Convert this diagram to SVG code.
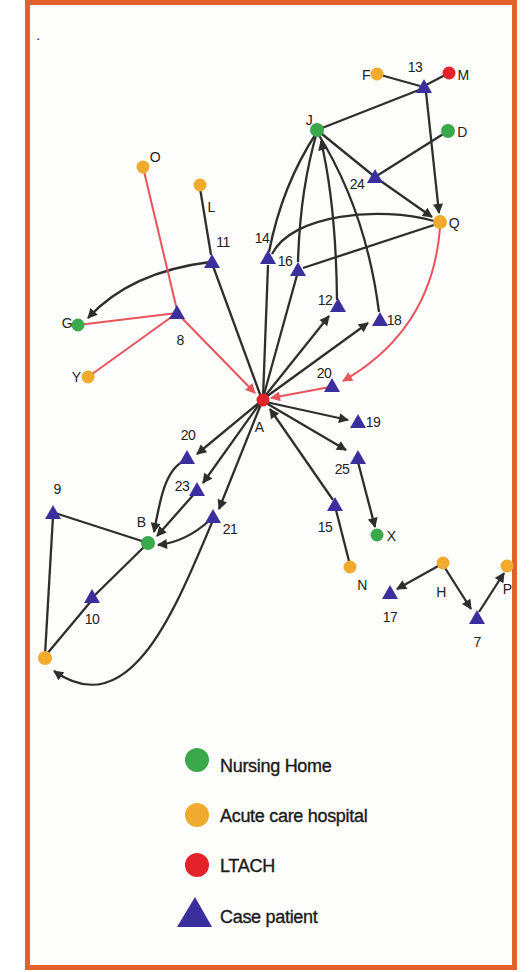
<svg xmlns="http://www.w3.org/2000/svg" width="531" height="972" viewBox="0 0 531 972">
<defs>
<style>
.e{fill:none;stroke:#2e2e2e;stroke-width:2.3}
.r{fill:none;stroke:#e8545c;stroke-width:2}
.nh{fill:#3aa94c}
.ah{fill:#f0aa2e}
.lt{fill:#e3222a}
.cp{fill:#3b2f9e}
.lb{font-family:"Liberation Sans Narrow","Liberation Sans",Arial,sans-serif;font-size:14px;fill:#222;text-anchor:middle;letter-spacing:-0.6px}
.lg{font-family:"Liberation Sans",Arial,sans-serif;font-size:18px;fill:#1a1a1a;stroke:#1a1a1a;stroke-width:0.35;letter-spacing:-0.3px}
</style>
<marker id="ak" viewBox="0 0 10 10" refX="9" refY="5" markerWidth="11" markerHeight="10" markerUnits="userSpaceOnUse" orient="auto"><path d="M0,0 L10,5 L0,10 Z" fill="#2e2e2e"/></marker>
<marker id="ar" viewBox="0 0 10 10" refX="9" refY="5" markerWidth="11" markerHeight="10" markerUnits="userSpaceOnUse" orient="auto"><path d="M0,0 L10,5 L0,10 Z" fill="#e8545c"/></marker>
<symbol id="tri" viewBox="-9 -9 18 18" overflow="visible"><path d="M0,-8 L8,6 L-8,6 Z"/></symbol>
</defs>
<rect x="0" y="0" width="531" height="972" fill="#ffffff"/>
<rect x="27.5" y="2.5" width="487" height="965" fill="#fdfdfb" stroke="#e2622c" stroke-width="5"/>
<text x="38" y="40" class="lb">.</text>
<g id="connectors">
<line class="e" x1="377" y1="74" x2="420" y2="86"/>
<line class="e" x1="426" y1="85" x2="449" y2="73"/>
<line class="e" x1="424" y1="88" x2="317" y2="130"/>
<line class="e" x1="426" y1="92" x2="439" y2="213" marker-end="url(#ak)"/>
<line class="e" x1="448" y1="131" x2="375" y2="177"/>
<line class="e" x1="317" y1="130" x2="375" y2="177"/>
<line class="e" x1="375" y1="177" x2="432" y2="217" marker-end="url(#ak)"/>
<path class="e" d="M317,132 Q282,185 269,252"/>
<path class="e" d="M317,132 Q300,190 298,262"/>
<path class="e" d="M337,300 Q336,205 321,141" marker-end="url(#ak)"/>
<path class="e" d="M317,132 Q366,210 379,312"/>
<path class="e" d="M434,221 C380,206 292,214 272,254"/>
<line class="e" x1="434" y1="225" x2="303" y2="268"/>
<line class="e" x1="263" y1="398" x2="268" y2="265"/>
<line class="e" x1="263" y1="398" x2="297" y2="275"/>
<line class="e" x1="265" y1="396" x2="329" y2="316" marker-end="url(#ak)"/>
<line class="e" x1="266" y1="397" x2="368" y2="323" marker-end="url(#ak)"/>
<line class="e" x1="266" y1="402" x2="348" y2="420" marker-end="url(#ak)"/>
<line class="e" x1="266" y1="403" x2="346" y2="450" marker-end="url(#ak)"/>
<line class="e" x1="333" y1="500" x2="270" y2="409" marker-end="url(#ak)"/>
<line class="e" x1="350" y1="565" x2="336" y2="510"/>
<line class="e" x1="358" y1="462" x2="375" y2="527" marker-end="url(#ak)"/>
<line class="e" x1="440" y1="565" x2="397" y2="589" marker-end="url(#ak)"/>
<line class="e" x1="445" y1="568" x2="471" y2="609" marker-end="url(#ak)"/>
<line class="e" x1="479" y1="612" x2="504" y2="573" marker-end="url(#ak)"/>
<line class="e" x1="200" y1="188" x2="211" y2="255"/>
<path class="e" d="M210,262 Q130,272 88,318" marker-end="url(#ak)"/>
<line class="e" x1="213" y1="266" x2="261" y2="397"/>
<line class="e" x1="260" y1="402" x2="197" y2="454" marker-end="url(#ak)"/>
<line class="e" x1="260" y1="403" x2="203" y2="483" marker-end="url(#ak)"/>
<line class="e" x1="261" y1="404" x2="219" y2="509" marker-end="url(#ak)"/>
<path class="e" d="M184,461 C165,470 160,500 154,532" marker-end="url(#ak)"/>
<line class="e" x1="195" y1="493" x2="157" y2="536" marker-end="url(#ak)"/>
<path class="e" d="M210,520 Q186,542 158,545" marker-end="url(#ak)"/>
<line class="e" x1="55" y1="513" x2="148" y2="543"/>
<line class="e" x1="148" y1="543" x2="95" y2="595"/>
<line class="e" x1="92" y1="600" x2="46" y2="655"/>
<line class="e" x1="53" y1="516" x2="45" y2="655"/>
<path class="e" d="M213,520 C175,610 130,725 54,671" marker-end="url(#ak)"/>
<line class="r" x1="143" y1="167" x2="177" y2="310"/>
<line class="r" x1="177" y1="313" x2="78" y2="325"/>
<line class="r" x1="177" y1="313" x2="88" y2="377"/>
<line class="r" x1="177" y1="313" x2="255" y2="393" marker-end="url(#ar)"/>
<path class="r" d="M440,228 Q432,330 343,381" marker-end="url(#ar)"/>
<line class="r" x1="330" y1="387" x2="271" y2="398" marker-end="url(#ar)"/>
</g>
<g id="node-F"><circle class="ah" cx="377" cy="74" r="6.5"/><text class="lb" x="366" y="80">F</text></g>
<g id="node-13"><use href="#tri" class="cp" x="415" y="78" width="18" height="18"/><text class="lb" x="415" y="72">13</text></g>
<g id="node-M"><circle class="lt" cx="449" cy="73" r="6.5"/><text class="lb" x="463" y="80">M</text></g>
<g id="node-J"><circle class="nh" cx="317" cy="130" r="7"/><text class="lb" x="309" y="125">J</text></g>
<g id="node-D"><circle class="nh" cx="448" cy="131" r="7"/><text class="lb" x="462" y="137">D</text></g>
<g id="node-24"><use href="#tri" class="cp" x="366" y="168" width="18" height="18"/><text class="lb" x="357" y="189">24</text></g>
<g id="node-Q"><circle class="ah" cx="440" cy="222" r="7"/><text class="lb" x="454" y="228">Q</text></g>
<g id="node-O"><circle class="ah" cx="143" cy="167" r="6.5"/><text class="lb" x="155" y="162">O</text></g>
<g id="node-L"><circle class="ah" cx="200" cy="185" r="6.5"/><text class="lb" x="211" y="212">L</text></g>
<g id="node-11"><use href="#tri" class="cp" x="203" y="253" width="18" height="18"/><text class="lb" x="223" y="247">11</text></g>
<g id="node-14"><use href="#tri" class="cp" x="259" y="249" width="18" height="18"/><text class="lb" x="262" y="243">14</text></g>
<g id="node-16"><use href="#tri" class="cp" x="289" y="261" width="18" height="18"/><text class="lb" x="285" y="266">16</text></g>
<g id="node-12"><use href="#tri" class="cp" x="329" y="297" width="18" height="18"/><text class="lb" x="325" y="305">12</text></g>
<g id="node-18"><use href="#tri" class="cp" x="371" y="311" width="18" height="18"/><text class="lb" x="394" y="325">18</text></g>
<g id="node-8"><use href="#tri" class="cp" x="168" y="304" width="18" height="18"/><text class="lb" x="180" y="345">8</text></g>
<g id="node-G"><circle class="nh" cx="78" cy="325" r="6.5"/><text class="lb" x="67" y="328">G</text></g>
<g id="node-Y"><circle class="ah" cx="88" cy="377" r="6.5"/><text class="lb" x="76" y="382">Y</text></g>
<g id="node-A"><circle class="lt" cx="263" cy="400" r="6.5"/><text class="lb" x="259" y="432">A</text></g>
<g id="node-20r"><use href="#tri" class="cp" x="323" y="377" width="18" height="18"/><text class="lb" x="324" y="378">20</text></g>
<g id="node-19"><use href="#tri" class="cp" x="349" y="413" width="18" height="18"/><text class="lb" x="373" y="427">19</text></g>
<g id="node-25"><use href="#tri" class="cp" x="349" y="449" width="18" height="18"/><text class="lb" x="342" y="474">25</text></g>
<g id="node-15"><use href="#tri" class="cp" x="326" y="496" width="18" height="18"/><text class="lb" x="325" y="532">15</text></g>
<g id="node-X"><circle class="nh" cx="377" cy="535" r="6.5"/><text class="lb" x="391" y="541">X</text></g>
<g id="node-N"><circle class="ah" cx="350" cy="567" r="6.5"/><text class="lb" x="362" y="590">N</text></g>
<g id="node-H"><circle class="ah" cx="443" cy="563" r="6.5"/><text class="lb" x="441" y="597">H</text></g>
<g id="node-17"><use href="#tri" class="cp" x="381" y="584" width="18" height="18"/><text class="lb" x="390" y="622">17</text></g>
<g id="node-7"><use href="#tri" class="cp" x="468" y="609" width="18" height="18"/><text class="lb" x="477" y="647">7</text></g>
<g id="node-P"><circle class="ah" cx="507" cy="566" r="6.5"/><text class="lb" x="507" y="594">P</text></g>
<g id="node-20l"><use href="#tri" class="cp" x="178" y="449" width="18" height="18"/><text class="lb" x="188" y="440">20</text></g>
<g id="node-23"><use href="#tri" class="cp" x="188" y="481" width="18" height="18"/><text class="lb" x="182" y="491">23</text></g>
<g id="node-21"><use href="#tri" class="cp" x="204" y="508" width="18" height="18"/><text class="lb" x="230" y="534">21</text></g>
<g id="node-B"><circle class="nh" cx="148" cy="543" r="7"/><text class="lb" x="141" y="527">B</text></g>
<g id="node-9"><use href="#tri" class="cp" x="44" y="504" width="18" height="18"/><text class="lb" x="57" y="494">9</text></g>
<g id="node-10"><use href="#tri" class="cp" x="83" y="588" width="18" height="18"/><text class="lb" x="92" y="624">10</text></g>
<g id="node-hosp"><circle class="ah" cx="45" cy="658" r="7"/></g>
<g id="legend">
<circle class="nh" cx="197" cy="760" r="12"/><text class="lg" x="220" y="772">Nursing Home</text>
<circle class="ah" cx="197" cy="815" r="12"/><text class="lg" x="220" y="822">Acute care hospital</text>
<circle class="lt" cx="197" cy="865" r="12"/><text class="lg" x="220" y="872">LTACH</text>
<path class="cp" d="M195,897 L212,927 L177,927 Z"/><text class="lg" x="220" y="923">Case patient</text>
</g>
</svg>
